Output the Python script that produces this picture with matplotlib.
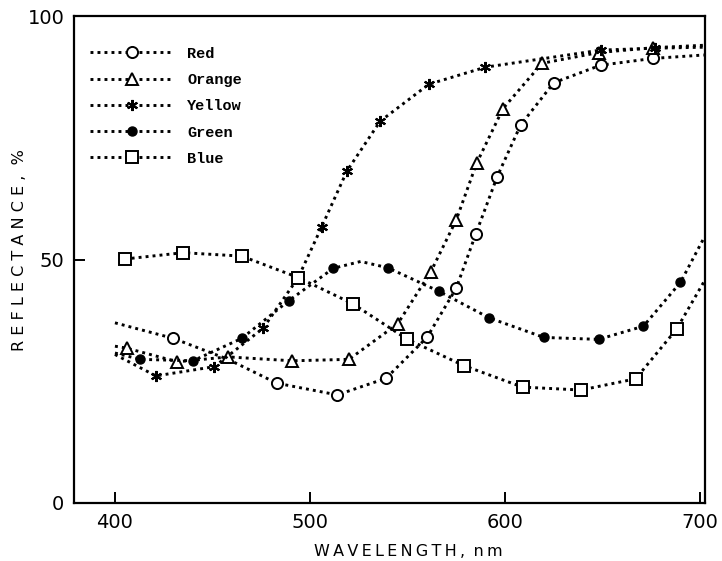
import matplotlib
matplotlib.use('Agg')
import matplotlib.pyplot as plt
from matplotlib.lines import Line2D

# traced curves (wavelength nm, reflectance %), markers only at *_mark indices
red_x = [400, 430, 458, 483, 514, 539, 560, 575, 585, 596, 608, 625, 649, 676, 702]
red_y = [37.0, 33.8, 29.5, 24.6, 22.2, 25.6, 34.0, 44.1, 55.2, 67.0, 77.6, 86.3, 89.9, 91.3, 92.0]
red_mark = [1, 3, 4, 5, 6, 7, 8, 9, 10, 11, 12, 13]

orange_x = [400, 406, 432, 458, 491, 520, 545, 562, 575, 585.5, 599, 619, 648, 676, 702]
orange_y = [32.2, 31.8, 29.0, 30.0, 29.2, 29.5, 36.8, 47.5, 58.1, 69.8, 81.0, 90.3, 92.5, 93.5, 94.0]
orange_mark = [1, 2, 3, 4, 5, 6, 7, 8, 9, 10, 11, 12, 13]

yellow_x = [400, 421, 451, 476, 494, 506, 519, 536, 561, 590, 649, 677, 702]
yellow_y = [30.5, 26.1, 28.0, 35.9, 46.3, 56.7, 68.2, 78.4, 86.0, 89.5, 93.0, 93.4, 93.6]
yellow_mark = [1, 2, 3, 4, 5, 6, 7, 8, 9, 10, 11]

green_x = [400, 413, 440, 465, 489, 512, 526, 540, 566, 592, 620, 648, 671, 690, 702]
green_y = [30.8, 29.5, 29.2, 33.8, 41.5, 48.2, 49.6, 48.3, 43.5, 38.0, 34.0, 33.6, 36.3, 45.3, 54.4]
green_mark = [1, 2, 3, 4, 5, 7, 8, 9, 10, 11, 12, 13]

blue_x = [405, 435, 465, 494, 522, 550, 579, 609, 639, 667, 688, 702]
blue_y = [50.1, 51.4, 50.7, 46.3, 40.9, 33.6, 28.2, 23.8, 23.2, 25.5, 35.7, 45.4]
blue_mark = [0, 1, 2, 3, 4, 5, 6, 7, 8, 9, 10]

labels = ['Red', 'Orange', 'Yellow', 'Green', 'Blue']
xticks = [400, 500, 600, 700]
yticks = [0, 50, 100]

dots = (0, (1.0, 1.4))
styles = [
    dict(marker='o', ms=8, mfc='white', mec='black', mew=1.4),
    dict(marker='^', ms=8, mfc='white', mec='black', mew=1.4),
    dict(marker=(6, 2, 0), ms=8, mec='black', mew=1.5),
    dict(marker='o', ms=6.5, mfc='black', mec='black', mew=1),
    dict(marker='s', ms=9, mfc='white', mec='black', mew=1.4),
]
series = [(red_x, red_y, red_mark), (orange_x, orange_y, orange_mark),
          (yellow_x, yellow_y, yellow_mark), (green_x, green_y, green_mark),
          (blue_x, blue_y, blue_mark)]

fig = plt.figure(figsize=(7.22, 5.61), dpi=100)
ax = fig.add_axes([0.1025, 0.1034, 0.874, 0.868])

for (x, y, mk), st in zip(series, styles):
    ax.plot(x, y, color='black', lw=2.1, ls=dots, markevery=mk, **st)

ax.set_xlim(379, 702.6)
ax.set_ylim(0, 100)
ax.set_xticks(xticks)
ax.set_yticks(yticks)
ax.tick_params(direction='in', length=8, width=1.4, labelsize=14, pad=7)
for s in ax.spines.values():
    s.set_linewidth(1.6)

ax.set_xlabel('W\u2009A\u2009V\u2009E\u2009L\u2009E\u2009N\u2009G\u2009T\u2009H\u2009,\u2009 n\u2009m',
              fontsize=11.5)
ax.xaxis.set_label_coords(0.529, -0.085)
ax.set_ylabel('R E F L E C T A N C E ,  %', fontsize=11.5)
ax.yaxis.set_label_coords(-0.075, 0.52)

handles = [Line2D([], [], color='black', lw=2.1, ls=dots, **st) for st in styles]
ax.legend(handles, labels, loc='upper left', bbox_to_anchor=(0.003, 0.965),
          frameon=False, handlelength=5.5, handletextpad=0.9, labelspacing=0.8,
          prop={'family': 'Liberation Mono', 'size': 11, 'weight': 'bold'})

fig.savefig('out.png', dpi=100)
